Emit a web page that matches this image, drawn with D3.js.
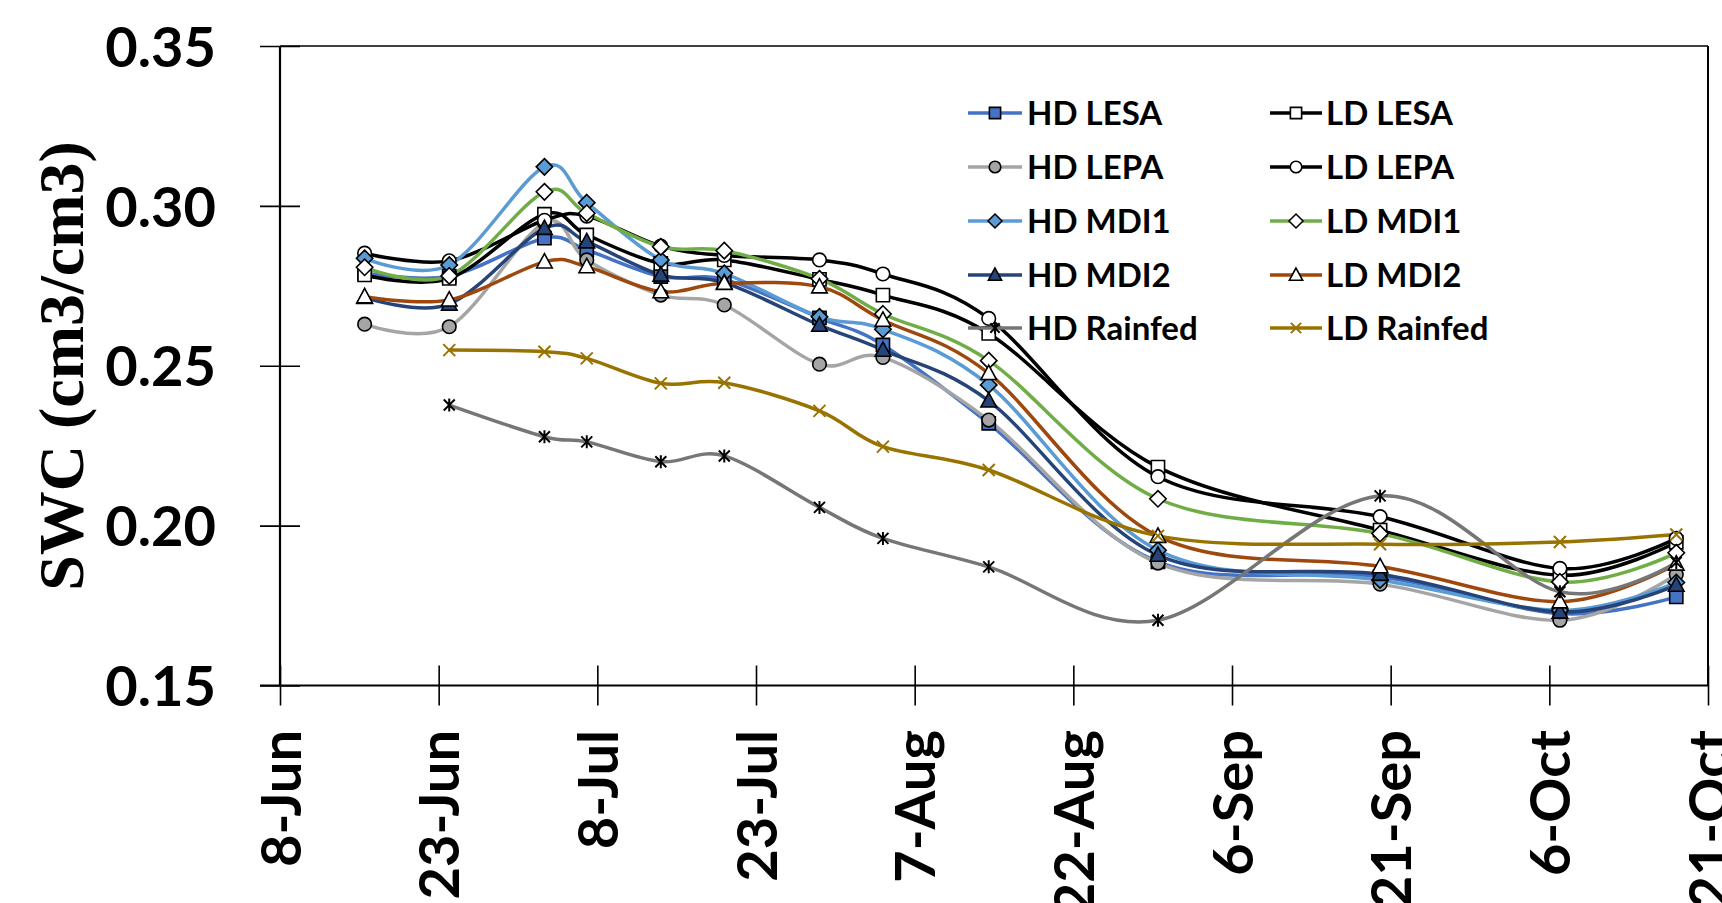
<!DOCTYPE html>
<html><head><meta charset="utf-8">
<script src="https://cdn.jsdelivr.net/npm/d3@7"></script>
<style>body{margin:0;background:#fff}svg{display:block}</style>
</head><body>
<svg id="chart" width="1722" height="903"></svg>
<script>
// ---------- data ----------
const dates = ["2019-06-16","2019-06-24","2019-07-03","2019-07-07","2019-07-14","2019-07-20","2019-07-29","2019-08-04","2019-08-14","2019-08-30","2019-09-20","2019-10-07","2019-10-18"];
const hdLesa    = [0.2790,0.2780,0.2899,0.2862,0.2779,0.2770,0.2650,0.2565,0.2320,0.1887,0.1840,0.1725,0.1777];
const ldLesa    = [0.2784,0.2773,0.2974,0.2909,0.2820,0.2831,0.2770,0.2721,0.2601,0.2183,0.1986,0.1845,0.1948];
const hdLepa    = [0.2630,0.2622,0.2947,0.2831,0.2721,0.2690,0.2505,0.2526,0.2330,0.1883,0.1817,0.1704,0.1847];
const ldLepa    = [0.2852,0.2828,0.2955,0.2968,0.2874,0.2845,0.2831,0.2787,0.2648,0.2153,0.2028,0.1866,0.1960];
const hdMdi1    = [0.2836,0.2815,0.3122,0.3010,0.2831,0.2789,0.2653,0.2614,0.2440,0.1923,0.1830,0.1735,0.1822];
const ldMdi1    = [0.2808,0.2781,0.3044,0.2977,0.2872,0.2860,0.2772,0.2662,0.2516,0.2084,0.1975,0.1824,0.1915];
const hdMdi2    = [0.2714,0.2693,0.2930,0.2888,0.2784,0.2760,0.2627,0.2549,0.2390,0.1908,0.1848,0.1730,0.1814];
const ldMdi2    = [0.2716,0.2706,0.2825,0.2810,0.2732,0.2758,0.2747,0.2643,0.2476,0.1967,0.1872,0.1762,0.1880];
const hdRainfed = [null,0.2377,0.2278,0.2262,0.2200,0.2218,0.2057,0.1960,0.1871,0.1704,0.2093,0.1793,0.1885];
const ldRainfed = [null,0.2549,0.2544,0.2523,0.2445,0.2447,0.2359,0.2247,0.2174,0.1968,0.1942,0.1949,0.1972];

const xTickDates  = ["2019-06-08","2019-06-23","2019-07-08","2019-07-23","2019-08-07","2019-08-22","2019-09-06","2019-09-21","2019-10-06","2019-10-21"];
const xTickLabels = ["8-Jun","23-Jun","8-Jul","23-Jul","7-Aug","22-Aug","6-Sep","21-Sep","6-Oct","21-Oct"];
const yTicks      = [0.15,0.20,0.25,0.30,0.35];
const yTickLabels = ["0.15","0.20","0.25","0.30","0.35"];
const yTitle = "SWC (cm3/cm3)";

// ---------- styles ----------
const series = [
  {name:"HD LESA",    values:hdLesa,    color:"#4472C4", marker:"square",   fill:"#4472C4", col:0,row:0},
  {name:"LD LESA",    values:ldLesa,    color:"#000000", marker:"square",   fill:"#ffffff", col:1,row:0},
  {name:"HD LEPA",    values:hdLepa,    color:"#A5A5A5", marker:"circle",   fill:"#A5A5A5", col:0,row:1},
  {name:"LD LEPA",    values:ldLepa,    color:"#000000", marker:"circle",   fill:"#ffffff", col:1,row:1},
  {name:"HD MDI1",    values:hdMdi1,    color:"#5B9BD5", marker:"diamond",  fill:"#5B9BD5", col:0,row:2},
  {name:"LD MDI1",    values:ldMdi1,    color:"#70AD47", marker:"diamond",  fill:"#ffffff", col:1,row:2},
  {name:"HD MDI2",    values:hdMdi2,    color:"#264478", marker:"triangle", fill:"#264478", col:0,row:3},
  {name:"LD MDI2",    values:ldMdi2,    color:"#9E480E", marker:"triangle", fill:"#ffffff", col:1,row:3},
  {name:"HD Rainfed", values:hdRainfed, color:"#767676", marker:"star",     fill:"none",    col:0,row:4},
  {name:"LD Rainfed", values:ldRainfed, color:"#997300", marker:"x",        fill:"none",    col:1,row:4}
];

const L = 280, R = 1708, T = 46, B = 685.5;
const parse = d3.timeParse("%Y-%m-%d");
const svg = d3.select("#chart");

const x = d3.scaleTime().domain([parse(xTickDates[0]), parse(xTickDates[xTickDates.length-1])]).range([L, R]);
const y = d3.scaleLinear().domain([0.15, 0.35]).range([B, T]);

const tickFont = "Lato, 'Open Sans', sans-serif";

// markers
function markerPath(type, s) {
  const r = 6.6*s;
  switch(type){
    case "square":   return `M${-r},${-r}H${r}V${r}H${-r}Z`;
    case "circle":   { const c = 6.8*s; return `M${c},0A${c},${c} 0 1,1 ${-c},0A${c},${c} 0 1,1 ${c},0Z`; }
    case "diamond":  { const d = 8.2*s; return `M0,${-d}L${d},0L0,${d}L${-d},0Z`; }
    case "triangle": { const h = 8.2*s; return `M0,${-h}L${h*0.95},${h*0.75}L${-h*0.95},${h*0.75}Z`; }
    case "star":     { const a = 5.5*s; return `M${-a},${-a}L${a},${a}M${-a},${a}L${a},${-a}M0,${-a-1}V${a+1}`; }
    case "x":        { const a = 6*s;   return `M${-a},${-a}L${a},${a}M${-a},${a}L${a},${-a}`; }
  }
}
function drawMarker(g, s, cx, cy, scale) {
  const p = g.append("path").attr("d", markerPath(s.marker, scale))
    .attr("transform", `translate(${cx},${cy})`);
  if (s.marker === "star") p.attr("fill","none").attr("stroke","#000").attr("stroke-width",2);
  else if (s.marker === "x") p.attr("fill","none").attr("stroke",s.color).attr("stroke-width",2);
  else p.attr("fill", s.fill).attr("stroke","#000").attr("stroke-width",1.6);
}

// ---------- axes / frame ----------
const frame = svg.append("g").attr("stroke","#000");
frame.append("line").attr("x1",L).attr("x2",R).attr("y1",T).attr("y2",T).attr("stroke-width",1.5);
frame.append("line").attr("x1",R).attr("x2",R).attr("y1",T).attr("y2",B).attr("stroke-width",2);

const yAxis = d3.axisLeft(y).tickValues(yTicks).tickSize(0).tickFormat((d,i)=>yTickLabels[i]);
const gy = svg.append("g").attr("transform",`translate(${L},0)`).call(yAxis);
gy.selectAll(".tick line").attr("x1",-20).attr("x2",20).attr("stroke","#000").attr("stroke-width",1.6);
gy.selectAll(".tick text").attr("x",-64).attr("dy","0.36em")
  .attr("font-family",tickFont).attr("font-weight","bold").attr("font-size",56).attr("fill","#000");

const xAxis = d3.axisBottom(x).tickValues(xTickDates.map(parse)).tickSize(0).tickFormat((d,i)=>xTickLabels[i]);
const gx = svg.append("g").attr("transform",`translate(0,${B})`).call(xAxis);
gx.selectAll(".tick line").attr("y1",-20).attr("y2",20).attr("stroke","#000").attr("stroke-width",1.6);
gx.selectAll(".tick text").attr("y",0).attr("dy","0.36em").attr("text-anchor","end")
  .attr("transform","translate(0,44.5) rotate(-90)")
  .attr("font-family",tickFont).attr("font-weight","bold").attr("font-size",56).attr("fill","#000");
svg.selectAll(".domain").remove();
svg.append("line").attr("x1",L).attr("x2",L).attr("y1",T).attr("y2",B).attr("stroke","#000").attr("stroke-width",2.2);
svg.append("line").attr("x1",L-20).attr("x2",R).attr("y1",B).attr("y2",B).attr("stroke","#000").attr("stroke-width",2.2);

svg.append("text").text(yTitle)
  .attr("transform","translate(83,366) rotate(-90)")
  .attr("text-anchor","middle")
  .attr("font-family","'Liberation Serif','Times New Roman',serif")
  .attr("font-weight","bold").attr("font-size",64).attr("fill","#000");

// ---------- series ----------
const line = d3.line()
  .defined(d => d.v != null)
  .x(d => x(d.t)).y(d => y(d.v))
  .curve(d3.curveCardinal.tension(0));

const plot = svg.append("g");
series.forEach(s => {
  const pts = dates.map((dt,i)=>({t:parse(dt), v:s.values[i]}));
  plot.append("path").datum(pts).attr("d", line)
    .attr("fill","none").attr("stroke",s.color).attr("stroke-width",3.5)
    .attr("stroke-linejoin","round");
});
series.forEach(s => {
  const g = plot.append("g");
  dates.forEach((dt,i)=>{
    const v = s.values[i];
    if (v == null) return;
    drawMarker(g, s, x(parse(dt)), y(v), 1);
  });
});

// ---------- legend ----------
const legRows = [113, 167, 221, 275, 328];
const legCols = [{x1:968, x2:1022, tx:1027}, {x1:1270, x2:1322, tx:1326}];
const leg = svg.append("g");
series.forEach(s => {
  const c = legCols[s.col], yy = legRows[s.row];
  leg.append("line").attr("x1",c.x1).attr("x2",c.x2).attr("y1",yy).attr("y2",yy)
    .attr("stroke",s.color).attr("stroke-width",3.5);
  drawMarker(leg, s, (c.x1+c.x2)/2, yy, 0.85);
  leg.append("text").text(s.name).attr("x",c.tx).attr("y",yy).attr("dy","0.36em")
    .attr("font-family",tickFont).attr("font-weight","bold").attr("font-size",33).attr("fill","#000");
});
</script>
</body></html>
